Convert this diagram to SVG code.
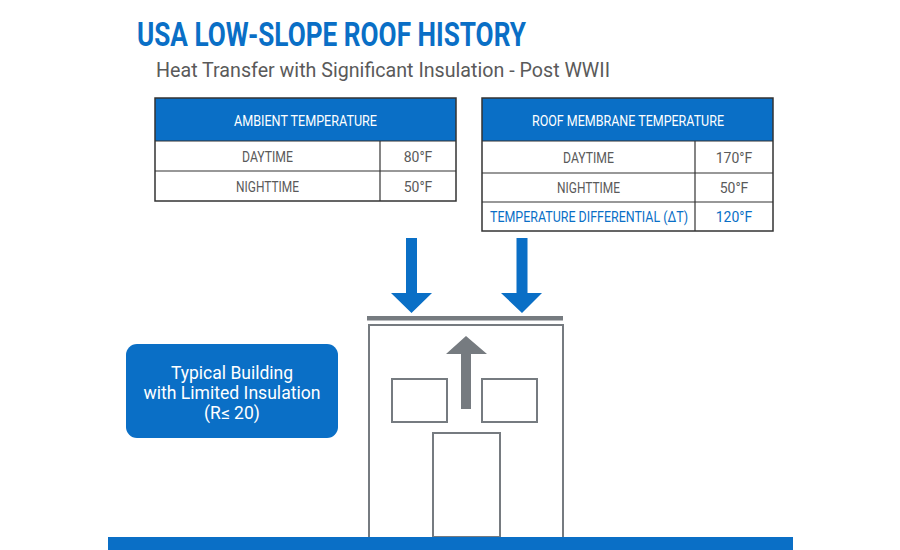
<svg xmlns="http://www.w3.org/2000/svg" width="900" height="550" viewBox="0 0 900 550">
<style>
.title{font-family:Roboto,"Liberation Sans",sans-serif;font-weight:700;fill:#0a6fc6}
.sub{font-family:Roboto,"Liberation Sans",sans-serif;fill:#5a5a5a;font-size:19.5px}
.th{font-family:Roboto,"Liberation Sans",sans-serif;fill:#fff;font-size:14px;text-anchor:middle}
.td{font-family:Roboto,"Liberation Sans",sans-serif;fill:#5a5a5a;font-size:14px;text-anchor:middle}
.tdb{font-family:Roboto,"Liberation Sans",sans-serif;fill:#0a6fc6;font-size:14px;text-anchor:middle}
.hdr{fill:#0a6fc6}
.frame{fill:none;stroke:#333;stroke-width:1.5}
.div{stroke:#333;stroke-width:1.2}
.wall{fill:none;stroke:#767b80;stroke-width:2}
.lbl{font-family:Roboto,"Liberation Sans",sans-serif;fill:#fff;font-size:17.5px;text-anchor:middle}
</style>
<rect width="900" height="550" fill="#fff"/>
<text class="title" x="137" y="46" font-size="33" textLength="389" lengthAdjust="spacingAndGlyphs">USA LOW-SLOPE ROOF HISTORY</text>
<text class="sub" x="156" y="77" textLength="454" lengthAdjust="spacingAndGlyphs">Heat Transfer with Significant Insulation - Post WWII</text>

<g id="ambient-table">
<rect class="hdr" x="155" y="98" width="301" height="43"/>
<rect class="frame" x="155" y="98" width="301" height="103"/>
<line class="div" x1="155" y1="141" x2="456" y2="141"/>
<line class="div" x1="155" y1="171" x2="456" y2="171"/>
<line class="div" x1="380" y1="141" x2="380" y2="201"/>
<text class="th" x="305.5" y="125.5" textLength="143" lengthAdjust="spacingAndGlyphs">AMBIENT TEMPERATURE</text>
<text class="td" x="267.5" y="161.5" textLength="51" lengthAdjust="spacingAndGlyphs">DAYTIME</text>
<text class="td" x="418" y="161.5">80°F</text>
<text class="td" x="267.5" y="191.5" textLength="63" lengthAdjust="spacingAndGlyphs">NIGHTTIME</text>
<text class="td" x="418" y="191.5">50°F</text>
</g>

<g id="membrane-table">
<rect class="hdr" x="482" y="98" width="291" height="43"/>
<rect class="frame" x="482" y="98" width="291" height="133"/>
<line class="div" x1="482" y1="141" x2="773" y2="141"/>
<line class="div" x1="482" y1="173" x2="773" y2="173"/>
<line class="div" x1="482" y1="202" x2="773" y2="202"/>
<line class="div" x1="695" y1="141" x2="695" y2="231"/>
<text class="th" x="628" y="125.5" textLength="192" lengthAdjust="spacingAndGlyphs">ROOF MEMBRANE TEMPERATURE</text>
<text class="td" x="588.5" y="162.5" textLength="51" lengthAdjust="spacingAndGlyphs">DAYTIME</text>
<text class="td" x="734" y="162.5">170°F</text>
<text class="td" x="588.5" y="192.5" textLength="63" lengthAdjust="spacingAndGlyphs">NIGHTTIME</text>
<text class="td" x="734" y="192.5">50°F</text>
<text class="tdb" x="589" y="221.5" textLength="198" lengthAdjust="spacingAndGlyphs">TEMPERATURE DIFFERENTIAL (ΔT)</text>
<text class="tdb" x="734" y="221.5">120°F</text>
</g>

<g id="heat-arrows">
<polygon fill="#0a6fc6" points="406,238 417,238 417,293 432,293 411.5,313 391,293 406,293"/>
<polygon fill="#0a6fc6" points="516.5,238 527.5,238 527.5,293 542,293 522,313 501,293 516.5,293"/>
</g>

<g id="building">
<rect x="367" y="316" width="196" height="4.5" fill="#767b80"/>
<polyline class="wall" points="369,537 369,325 563,325 563,537"/>
<rect class="wall" x="392" y="379" width="55" height="43"/>
<rect class="wall" x="482" y="379" width="55" height="43"/>
<rect class="wall" x="433" y="433" width="67" height="104"/>
<polygon fill="#767b80" points="461,409 471,409 471,354 487,354 466,336 446,354 461,354"/>
</g>

<rect id="ground" x="108" y="537" width="685" height="13" fill="#0a6fc6"/>

<g id="label-box">
<rect x="126" y="344" width="212" height="94" rx="11" fill="#0a6fc6"/>
<text class="lbl" x="232" y="379">Typical Building</text>
<text class="lbl" x="232" y="399" textLength="177" lengthAdjust="spacingAndGlyphs">with Limited Insulation</text>
<text class="lbl" x="232" y="419">(R≤ 20)</text>
</g>
</svg>
